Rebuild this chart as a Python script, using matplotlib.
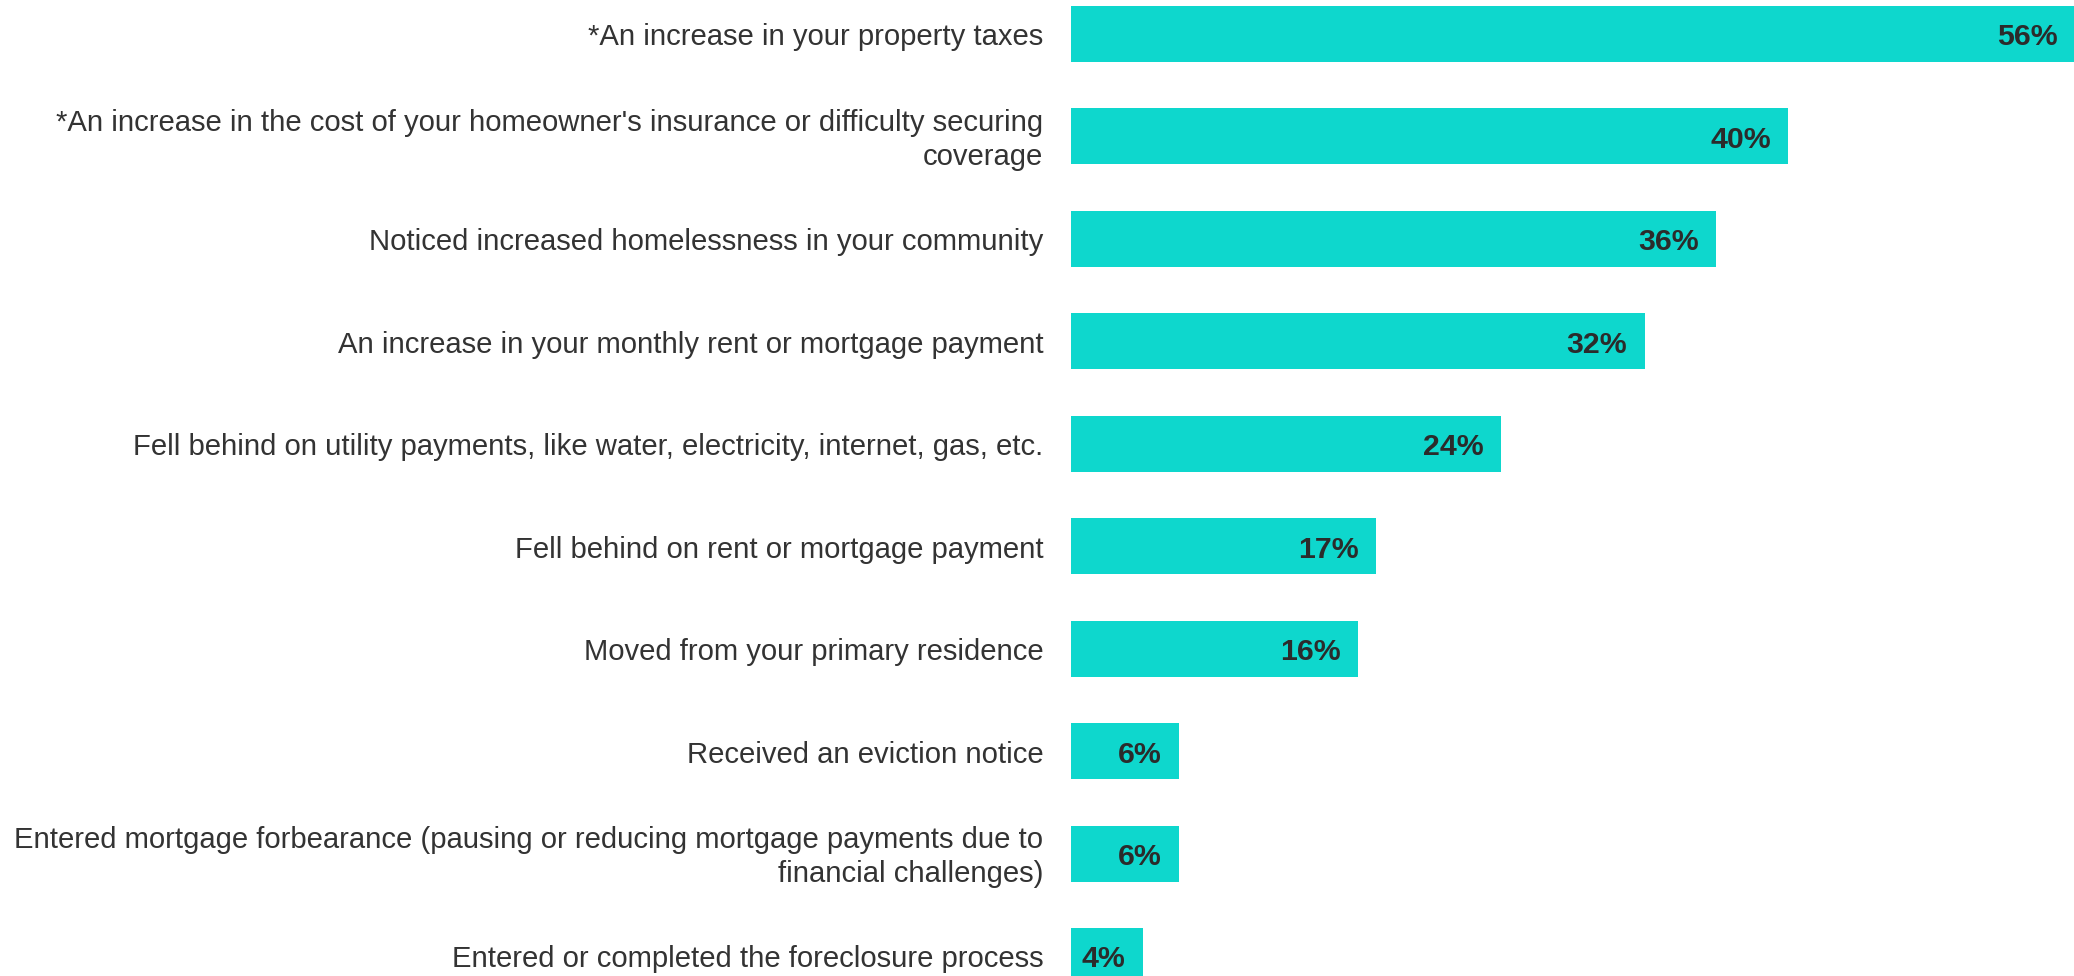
import matplotlib
matplotlib.use("Agg")
import matplotlib.pyplot as plt

# Survey responses, top to bottom
categories = [
    "*An increase in your property taxes",
    "*An increase in the cost of your homeowner's insurance or difficulty securing\ncoverage",
    "Noticed increased homelessness in your community",
    "An increase in your monthly rent or mortgage payment",
    "Fell behind on utility payments, like water, electricity, internet, gas, etc.",
    "Fell behind on rent or mortgage payment",
    "Moved from your primary residence",
    "Received an eviction notice",
    "Entered mortgage forbearance (pausing or reducing mortgage payments due to\nfinancial challenges)",
    "Entered or completed the foreclosure process",
]
values = [56, 40, 36, 32, 24, 17, 16, 6, 6, 4]

BAR_COLOR = "#0ED7CD"
LABEL_COLOR = "#333333"
VALUE_COLOR = "#2B2B2B"

plt.rcParams["font.family"] = ["Liberation Sans", "DejaVu Sans"]

W, H, DPI = 2074, 976, 100
fig = plt.figure(figsize=(W / DPI, H / DPI), dpi=DPI)
left_px = 1071
ax = fig.add_axes([left_px / W, 0.0, 1 - left_px / W, 1.0])

y = list(range(len(categories)))
ax.barh(y, values, height=0.547, color=BAR_COLOR)

ax.set_xlim(0, 55.95)
ax.set_ylim(9.195, -0.332)

for yi, v in zip(y, values):
    ax.annotate(f"{v}%", xy=(v, yi), xytext=(-12.5, -2.5), textcoords="offset points",
                ha="right", va="center", fontsize=21.8, fontweight="bold",
                color=VALUE_COLOR, annotation_clip=False)

for yi, label in zip(y, categories):
    ax.annotate(label, xy=(0, yi), xytext=(-20, -2.5), textcoords="offset points",
                ha="right", va="center", fontsize=21.1, color=LABEL_COLOR,
                multialignment="right", linespacing=1.27, annotation_clip=False)

ax.set_xticks([])
ax.set_yticks([])
for s in ax.spines.values():
    s.set_visible(False)

fig.savefig("out.png", dpi=DPI, facecolor="white")
